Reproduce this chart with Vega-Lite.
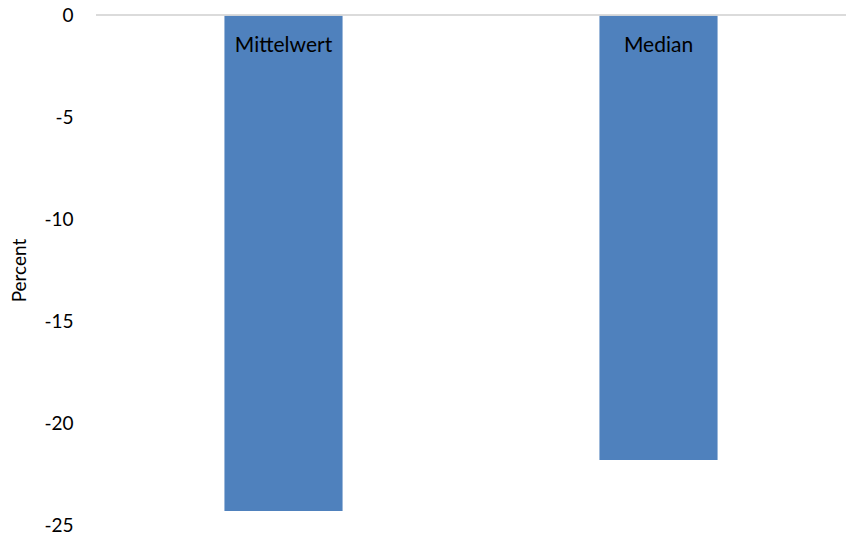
{
  "$schema": "https://vega.github.io/schema/vega-lite/v6.json",
  "width": 750,
  "height": 510,
  "autosize": {"type": "none"},
  "padding": {"left": 96, "top": 15, "right": 0, "bottom": 15},
  "background": "white",
  "config": {"view": {"stroke": null}, "font": "Lato"},
  "data": {"values": [
    {"Kategorie": "Mittelwert", "Percent": -24.31},
    {"Kategorie": "Median", "Percent": -21.81}
  ]},
  "encoding": {
    "x": {"field": "Kategorie", "type": "nominal", "sort": null,
      "scale": {"paddingInner": 0, "paddingOuter": 0},
      "axis": null},
    "y": {"field": "Percent", "type": "quantitative",
      "scale": {"domain": [-25, 0], "nice": false, "zero": false},
      "axis": {"values": [0, -5, -10, -15, -20, -25], "grid": false, "domain": false, "ticks": false,
        "labelExpr": "toString(datum.value)",
        "labelFontSize": 19, "labelColor": "#000000", "labelPadding": 23, "labelFont": "Lato",
        "title": "Percent", "titleFontSize": 19, "titleFontWeight": "normal", "titleColor": "#000000",
        "titleFont": "Lato", "titlePadding": 14}}
  },
  "layer": [
    {"mark": {"type": "bar", "color": "#4f81bd", "width": {"band": 0.315}}},
    {"mark": {"type": "rule", "color": "#d9d9d9", "strokeWidth": 1.5},
      "encoding": {"x": null, "y": {"datum": 0, "type": "quantitative"}}},
    {"mark": {"type": "text", "fontSize": 21, "color": "#000000", "baseline": "middle", "dy": 31, "font": "Lato"},
      "encoding": {"y": {"datum": 0, "type": "quantitative"}, "text": {"field": "Kategorie"}}}
  ]
}
